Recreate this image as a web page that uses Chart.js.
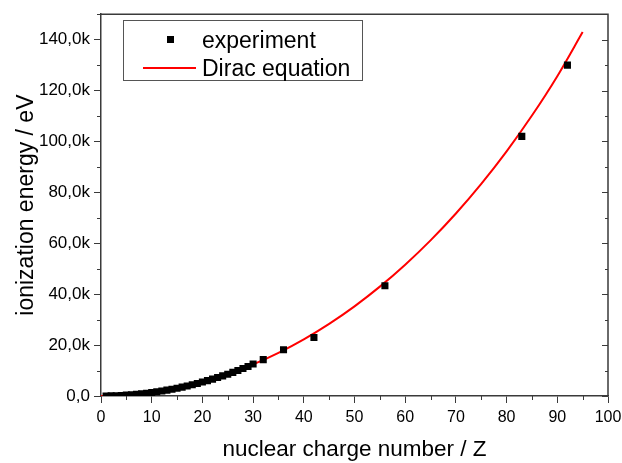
<!DOCTYPE html>
<html>
<head>
<meta charset="utf-8">
<script src="https://cdn.jsdelivr.net/npm/chart.js@4/dist/chart.umd.min.js"></script>
<style>
  body { margin: 0; background: #fff; }
  #wrap { position: relative; width: 622px; height: 463px; }
  #legend {
    position: absolute; left: 123px; top: 20px; width: 238px; height: 59px;
    border: 1px solid #555; background: #fff;
    font-family: "Liberation Sans", Arial, sans-serif; font-size: 23px; color: #000;
  }
  .row { position: absolute; left: 0; height: 28px; line-height: 28px; }
  .row span.txt { position: absolute; left: 78px; white-space: nowrap; }
  .sq { position: absolute; left: 43px; top: 10px; width: 7px; height: 7px; background: #000; }
  .ln { position: absolute; left: 19px; top: 13px; width: 53px; height: 2px; background: #ff0000; }
</style>
</head>
<body>
<div id="wrap">
  <canvas id="myChart" width="622" height="463"></canvas>
  <div id="legend">
    <div class="row" style="top:5px"><div class="sq"></div><span class="txt">experiment</span></div>
    <div class="row" style="top:33px"><div class="ln"></div><span class="txt">Dirac equation</span></div>
  </div>
</div>
<script>
// measured points
const expZ = [1, 2, 3, 4, 5, 6, 7, 8, 9, 10, 11, 12, 13, 14, 15, 16, 17, 18, 19, 20,
              21, 22, 23, 24, 25, 26, 27, 28, 29, 30, 32, 36, 42, 56, 83, 92];
const expE = [14, 54, 122, 218, 340, 490, 667, 871, 1103, 1362, 1649, 1963, 2304, 2673, 3070,
              3494, 3946, 4426, 4934, 5470, 6034, 6626, 7246, 7895, 8572, 9278, 10012, 10775,
              11568, 12600, 14300, 18200, 23000, 43300, 102000, 130000];

// Dirac curve
const diracZ = [0, 5, 10, 15, 20, 25, 30, 35, 40, 45, 50, 55, 60, 65, 70, 75, 80, 85, 90, 95];
const diracE = [0, 340, 1362, 3070, 5472, 8576, 12395, 16948, 22254, 28338, 35229, 42962,
                51584, 61143, 71696, 83326, 96117, 110181, 125654, 143000];

const xTicks = [0, 10, 20, 30, 40, 50, 60, 70, 80, 90, 100];
const yTicks = [0, 20000, 40000, 60000, 80000, 100000, 120000, 140000];

const axisColor = "#3a3a3a";

const frame = {
    id: "frame",
    afterDraw(chart) {
        const ctx = chart.ctx;
        const a = chart.chartArea;
        const xs = chart.scales.x;
        const ys = chart.scales.y;
        ctx.save();
        ctx.strokeStyle = axisColor;
        ctx.lineWidth = 1.5;
        ctx.beginPath();
        ctx.moveTo(a.left, a.top);
        ctx.lineTo(a.right, a.top);
        ctx.lineTo(a.right, a.bottom);
        ctx.stroke();
        ctx.lineWidth = 1;
        ctx.beginPath();
        // minor x ticks
        for (var v = 5; v < 100; v += 10) {
            var px = Math.round(xs.getPixelForValue(v)) + 0.5;
            ctx.moveTo(px, a.bottom);
            ctx.lineTo(px, a.bottom + 4);
        }
        // y minor ticks + right inward ticks
        for (var w = 0; w <= 150000; w += 10000) {
            var py = Math.round(ys.getPixelForValue(w)) + 0.5;
            var major = w % 20000 === 0;
            if (!major) {
                ctx.moveTo(a.left, py);
                ctx.lineTo(a.left - 4, py);
            }
            ctx.moveTo(a.right, py);
            ctx.lineTo(a.right - (major ? 6 : 3), py);
        }
        ctx.stroke();
        ctx.restore();
    }
};

const ctx = document.getElementById("myChart").getContext("2d");

const config = {
    type: "scatter",
    data: {
        datasets: [{
            label: "experiment",
            data: expZ.map((z, i) => ({ x: z, y: expE[i] })),
            pointStyle: "rect",
            pointRadius: 5,
            backgroundColor: "#000",
            borderColor: "#000",
            borderWidth: 0,
            order: 1
        }, {
            label: "Dirac equation",
            type: "line",
            data: diracZ.map((z, i) => ({ x: z, y: diracE[i] })),
            borderColor: "#ff0000",
            borderWidth: 2,
            pointRadius: 0,
            cubicInterpolationMode: "monotone",
            fill: false,
            order: 2
        }]
    },
    options: {
        responsive: false,
        animation: false,
        layout: { padding: { left: 13, right: 14, top: 11, bottom: 0 } },
        plugins: { legend: { display: false }, tooltip: { enabled: false } },
        scales: {
            x: {
                type: "linear",
                min: 0,
                max: 100,
                afterBuildTicks: (s) => { s.ticks = xTicks.map(v => ({ value: v })); },
                afterFit: (s) => { s.height = 67; s.paddingRight = 0; s.paddingLeft = 0; },
                grid: { drawOnChartArea: false, tickLength: 7, tickColor: axisColor, tickWidth: 1 },
                border: { color: axisColor, width: 1.5 },
                ticks: {
                    color: "#000",
                    padding: 5,
                    font: { family: "Liberation Sans", size: 16 }
                },
                title: {
                    display: true,
                    text: "nuclear charge number / Z",
                    color: "#000",
                    padding: { top: 6, bottom: 0 },
                    font: { family: "Liberation Sans", size: 22.5 }
                }
            },
            y: {
                type: "linear",
                min: 0,
                max: 150000,
                afterBuildTicks: (s) => { s.ticks = yTicks.map(v => ({ value: v })); },
                afterFit: (s) => { s.width = 88; },
                grid: { drawOnChartArea: false, tickLength: 7, tickColor: axisColor, tickWidth: 1 },
                border: { color: axisColor, width: 1.5 },
                ticks: {
                    color: "#000",
                    padding: 4,
                    font: { family: "Liberation Sans", size: 17 },
                    callback: (v) => v === 0 ? "0,0" : (v / 1000).toFixed(1).replace(".", ",") + "k"
                },
                title: {
                    display: true,
                    text: "ionization energy / eV",
                    color: "#000",
                    padding: { top: 0, bottom: 0 },
                    font: { family: "Liberation Sans", size: 23 }
                }
            }
        }
    },
    plugins: [frame]
};

const myChart = new Chart(ctx, config);
</script>
</body>
</html>
